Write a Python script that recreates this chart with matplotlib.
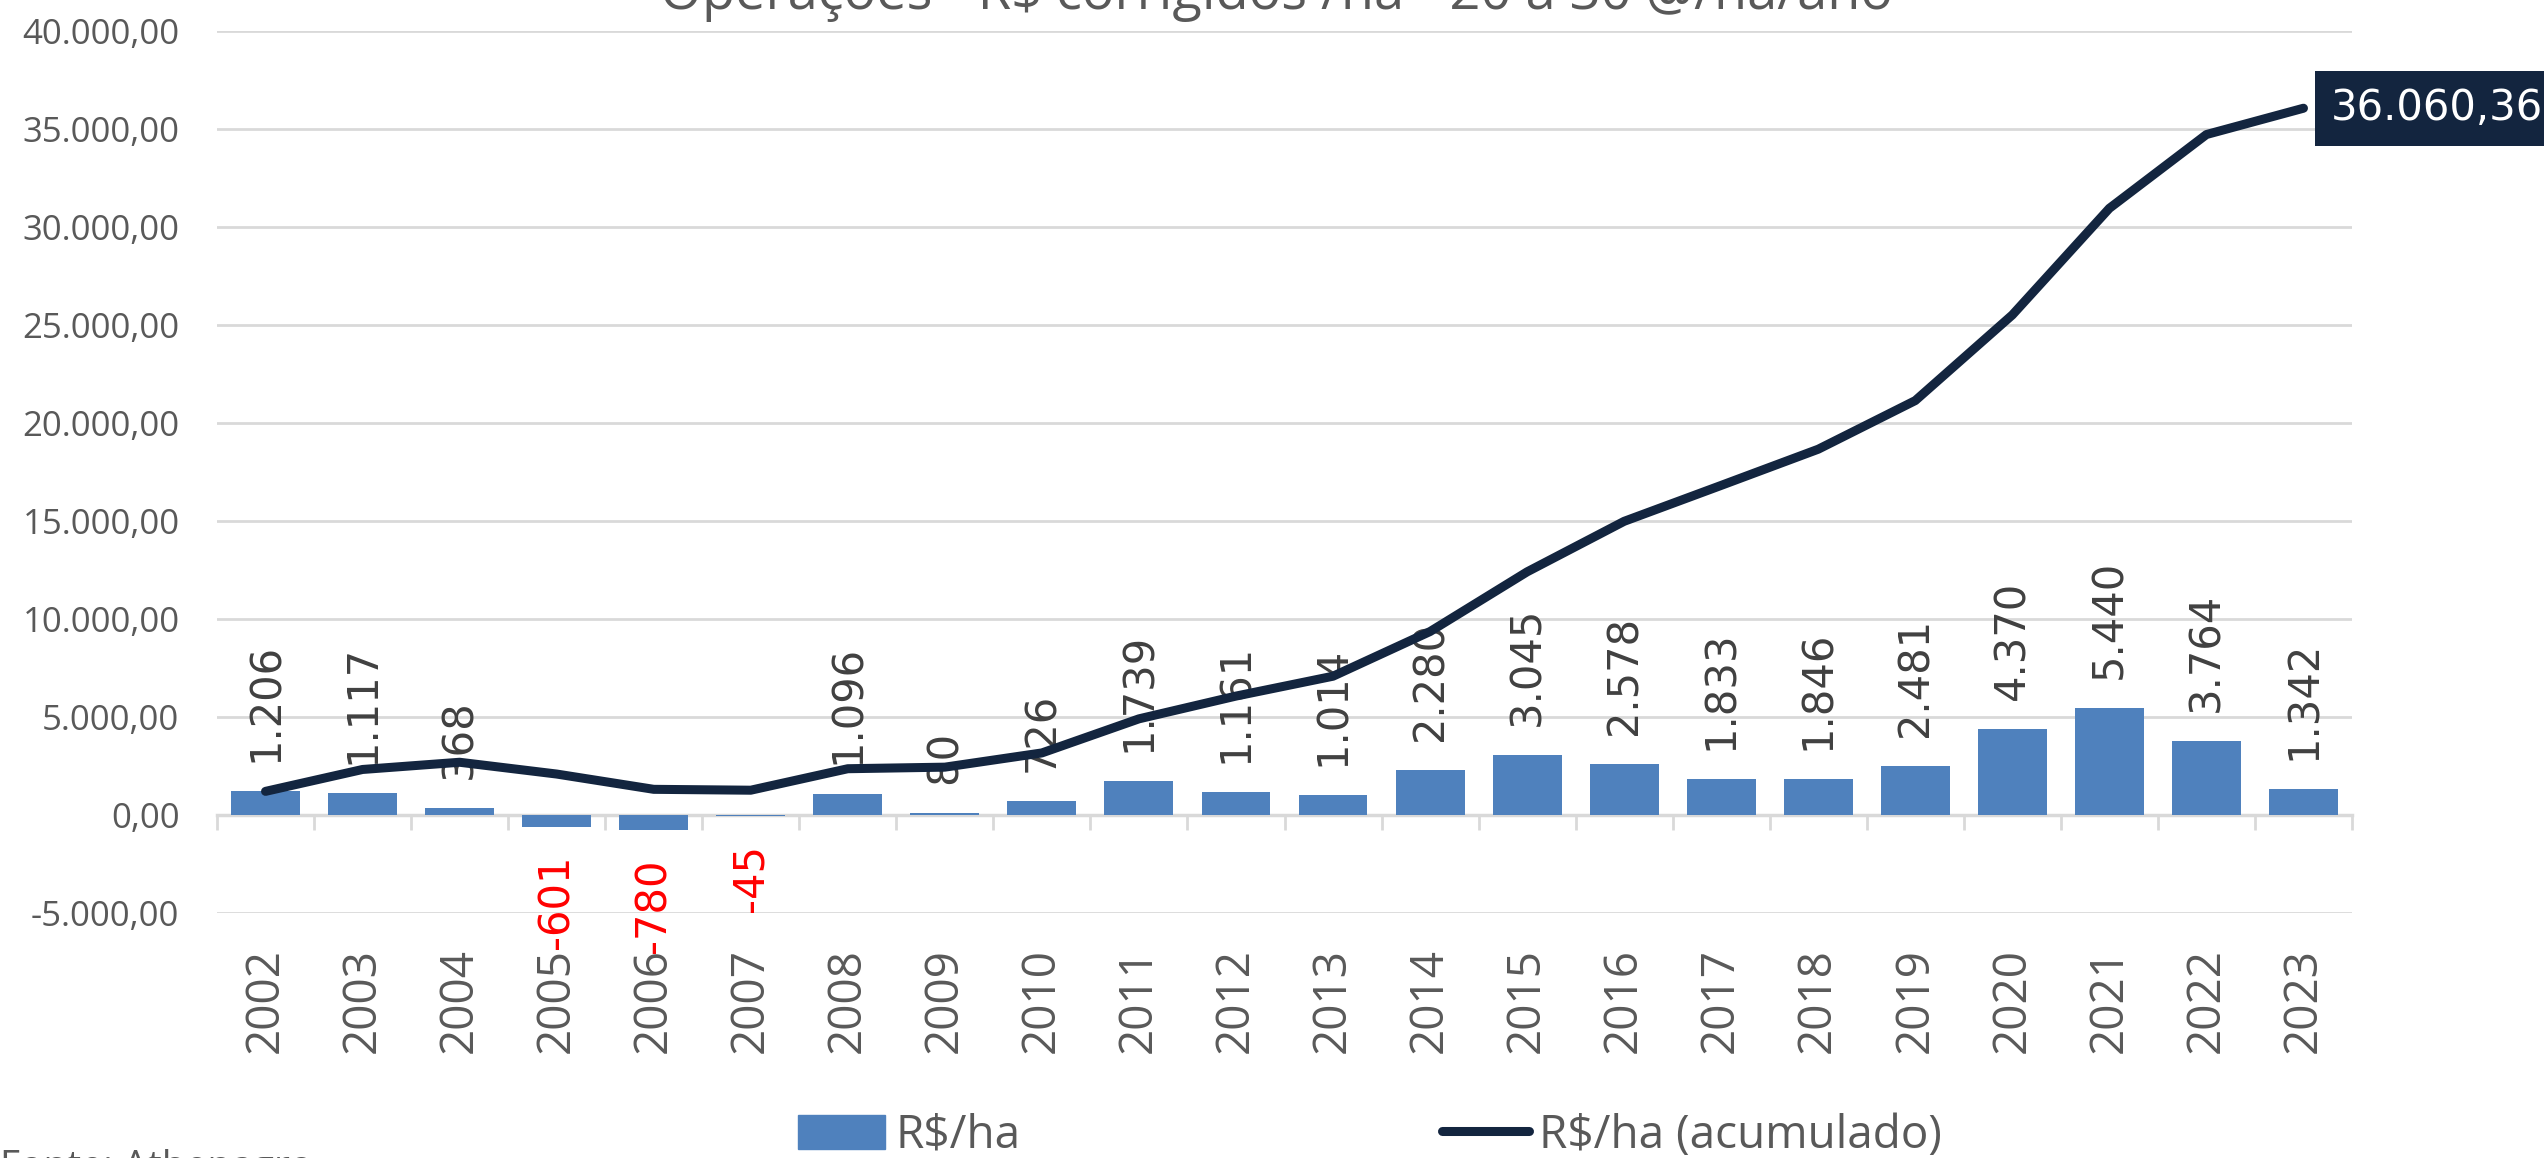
import numpy as np
import matplotlib
matplotlib.use("Agg")
import matplotlib.pyplot as plt
import matplotlib.transforms as mtransforms
from matplotlib.patches import Patch
from matplotlib.lines import Line2D

years = ["2002", "2003", "2004", "2005", "2006", "2007", "2008", "2009", "2010", "2011", "2012",
         "2013", "2014", "2015", "2016", "2017", "2018", "2019", "2020", "2021", "2022", "2023"]
rs_ha = [1206, 1117, 368, -601, -780, -45, 1096, 80, 726, 1739, 1161,
         1014, 2280, 3045, 2578, 1833, 1846, 2481, 4370, 5440, 3764, 1342]
rs_ha_acum = [1206, 2323, 2691, 2090, 1310, 1265, 2361, 2441, 3167, 4906, 6067,
              7081, 9361, 12406, 14984, 16817, 18663, 21144, 25514, 30954, 34718, 36060.36]
yticks = list(range(-5000, 40001, 5000))

BAR = "#4F81BD"
NAVY = "#13253F"
GRID = "#D9D9D9"
GREY = "#595959"


def br_num(v, dec=0):
    s = f"{v:,.{dec}f}"
    return s.replace(",", "X").replace(".", ",").replace("X", ".")


def main():
    W, H = 2544, 1158
    fig = plt.figure(figsize=(W / 100, H / 100), dpi=100)
    ax = fig.add_axes([217 / W, 1 - 913 / H, (2352 - 217) / W, (913 - 31) / H])

    x = np.arange(len(years))
    ax.bar(x, rs_ha, width=0.71, color=BAR, zorder=2)
    ax.plot(x, rs_ha_acum, color=NAVY, lw=6.5, solid_capstyle="round",
            solid_joinstyle="round", zorder=4)

    ax.set_xlim(-0.5, len(years) - 0.5)
    ax.set_ylim(-5000, 40000)
    ax.set_yticks(yticks)
    ax.set_yticklabels([br_num(v, 2) for v in yticks], fontfamily="Open Sans",
                       fontsize=25, color=GREY)
    ax.tick_params(axis="y", length=0, pad=27)
    ax.yaxis.grid(True, color=GRID, lw=2)
    ax.set_axisbelow(True)

    for s in ["left", "right", "top"]:
        ax.spines[s].set_visible(False)
    ax.spines["bottom"].set_position(("data", 0))
    ax.spines["bottom"].set_color(GRID)
    ax.spines["bottom"].set_linewidth(2.5)
    ax.spines["bottom"].set_zorder(1.5)
    ax.set_xticks(np.arange(-0.5, len(years), 1.0))
    ax.set_xticklabels([])
    ax.tick_params(axis="x", length=11, width=2, color=GRID, direction="out")

    # category labels at the bottom of the plot area
    trans = mtransforms.blended_transform_factory(ax.transData, fig.transFigure)
    for i, yr in enumerate(years):
        ax.text(i, 1 - 948 / H, yr, transform=trans, rotation=90, ha="center", va="top",
                fontfamily="Open Sans", fontsize=33, color=GREY)

    # data labels
    for i, v in enumerate(rs_ha):
        if v >= 0:
            ax.annotate(br_num(v), (i, v), xytext=(0, 21), textcoords="offset points",
                        rotation=90, ha="center", va="bottom", fontsize=30,
                        color="#404040", zorder=3)
        else:
            ax.annotate(br_num(v), (i, v), xytext=(0, -20), textcoords="offset points",
                        rotation=90, ha="center", va="top", fontsize=30,
                        color="#FF0000", zorder=3)

    last = len(years) - 1
    ax.annotate(br_num(rs_ha_acum[-1], 2), (last, rs_ha_acum[-1]), xytext=(20, 0),
                textcoords="offset points", ha="left", va="center", fontsize=30,
                color="white", annotation_clip=False, zorder=5,
                bbox=dict(boxstyle="square,pad=0.4", fc=NAVY, ec="none"))

    fig.text(1277 / W, 1 - 9 / H, r"Operações - R\$ corrigidos /ha - 20 a 30 @/ha/ano",
             ha="center", va="baseline", fontfamily="Open Sans", fontsize=39, color=GREY)
    fig.text(0, 1 - 1149 / H, "Fonte: Athenagro", ha="left", va="top",
             fontfamily="Open Sans", fontsize=28, color=GREY)

    handles = [Patch(color=BAR), Line2D([0], [0], color=NAVY, lw=6.5, solid_capstyle="round")]
    leg = fig.legend(handles, [r"R\$/ha", r"R\$/ha (acumulado)"], loc="center",
                     bbox_to_anchor=(1370 / W, 1 - 1136 / H), ncol=2, frameon=False,
                     prop={"family": "Open Sans", "size": 33}, handlelength=1.9,
                     handleheight=0.78, handletextpad=0.22, columnspacing=9.2,
                     borderpad=0, borderaxespad=0)
    for t in leg.get_texts():
        t.set_color(GREY)

    fig.savefig("out.png", dpi=100)


if __name__ == "__main__":
    main()
